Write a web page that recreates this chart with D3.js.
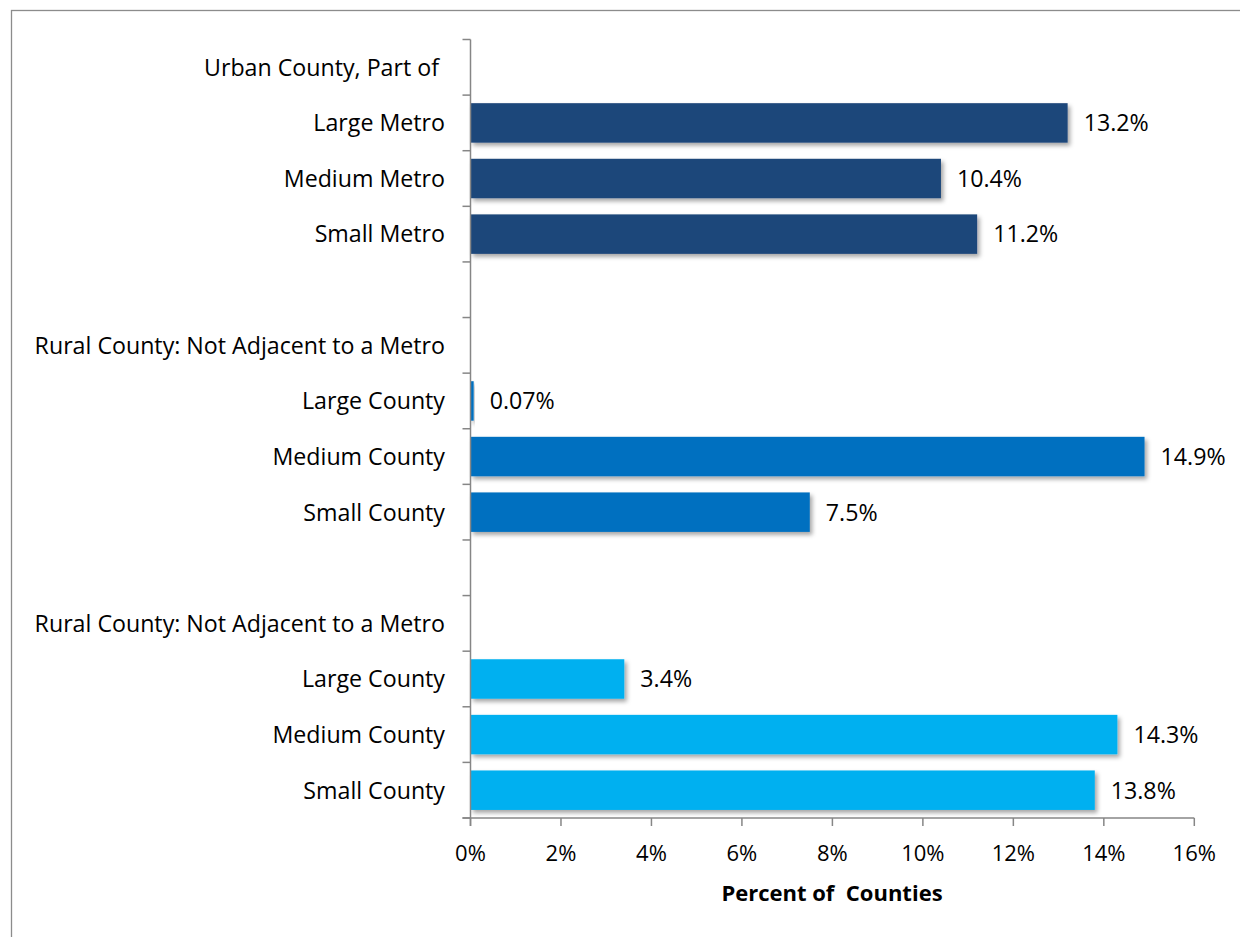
<!DOCTYPE html>
<html>
<head>
<meta charset="utf-8">
<script src="https://cdn.jsdelivr.net/npm/d3@7"></script>
<style>
  html, body { margin: 0; padding: 0; background: #fff; }
  svg { display: block; }
  text { font-family: "Open Sans", Lato, sans-serif; fill: #000; white-space: pre; }
</style>
</head>
<body>
<svg id="chart" width="1240" height="937"></svg>
<script>
// Row labels, top to bottom (group headers and spacer rows carry no value)
const rowLabels = [
  "Urban County, Part of ",
  "Large Metro", "Medium Metro", "Small Metro",
  "",
  "Rural County: Not Adjacent to a Metro",
  "Large County", "Medium County", "Small County",
  "",
  "Rural County: Not Adjacent to a Metro",
  "Large County", "Medium County", "Small County"
];
// Percent of counties for each row (null = no bar)
const rowValues = [null, 13.2, 10.4, 11.2, null, null, 0.07, 14.9, 7.5, null, null, 3.4, 14.3, 13.8];
const valueLabels = [null, "13.2%", "10.4%", "11.2%", null, null, "0.07%", "14.9%", "7.5%", null, null, "3.4%", "14.3%", "13.8%"];
// Group index for each row, used for bar colour
const rowGroup = [0, 0, 0, 0, 0, 1, 1, 1, 1, 1, 2, 2, 2, 2];
const groupColors = ["#1F477A", "#0070C0", "#00B0F0"];
const xTicks = [0, 2, 4, 6, 8, 10, 12, 14, 16];
const xTitle = "Percent of  Counties";

const svg = d3.select("#chart");
const labelSize = 23.2;
const tickSize = 22;

// Outer frame
svg.append("rect")
  .attr("x", 11.5).attr("y", 10.5)
  .attr("width", 1260).attr("height", 960)
  .attr("fill", "none").attr("stroke", "#8c8c8c").attr("stroke-width", 1.3);

const defs = svg.append("defs");
const f = defs.append("filter").attr("id", "shadow")
  .attr("x", "-5%").attr("y", "-20%").attr("width", "120%").attr("height", "160%");
f.append("feDropShadow")
  .attr("dx", 2.5).attr("dy", 3).attr("stdDeviation", 2)
  .attr("flood-color", "#000").attr("flood-opacity", 0.35);

const plotLeft = 470.5, plotRight = 1194.3, plotTop = 39.5, plotBottom = 818;
const idx = d3.range(rowLabels.length);

const x = d3.scaleLinear().domain([0, 16]).range([plotLeft, plotRight]);
const y = d3.scaleBand().domain(idx).range([plotTop, plotBottom]).paddingInner(0.29).paddingOuter(0.145);
const yEdge = d3.scaleLinear().domain([0, rowLabels.length]).range([plotTop, plotBottom]);

// Bars
svg.append("g").selectAll("rect")
  .data(idx.filter(i => rowValues[i] != null))
  .join("rect")
  .attr("x", x(0))
  .attr("y", i => y(i))
  .attr("width", i => Math.max(x(rowValues[i]) - x(0), 2))
  .attr("height", y.bandwidth())
  .attr("fill", i => groupColors[rowGroup[i]])
  .attr("filter", "url(#shadow)");

// Value labels
svg.append("g").selectAll("text")
  .data(idx.filter(i => rowValues[i] != null))
  .join("text")
  .attr("x", i => Math.max(x(rowValues[i]), x(0) + 2) + 16)
  .attr("y", i => y(i) + y.bandwidth() / 2)
  .attr("dy", "0.36em")
  .attr("font-size", labelSize)
  .text(i => valueLabels[i]);

// Category axis
const axisColor = "#868686";
const gy = svg.append("g");
gy.append("line")
  .attr("x1", plotLeft).attr("x2", plotLeft)
  .attr("y1", plotTop).attr("y2", plotBottom + 8)
  .attr("stroke", axisColor).attr("stroke-width", 1.5);
gy.selectAll("line.tick")
  .data(d3.range(rowLabels.length + 1))
  .join("line").attr("class", "tick")
  .attr("x1", plotLeft - 8).attr("x2", plotLeft)
  .attr("y1", i => yEdge(i)).attr("y2", i => yEdge(i))
  .attr("stroke", axisColor).attr("stroke-width", 1.5);
gy.selectAll("text")
  .data(idx)
  .join("text")
  .attr("x", 445)
  .attr("y", i => y(i) + y.bandwidth() / 2)
  .attr("dy", "0.36em")
  .attr("text-anchor", "end")
  .attr("font-size", labelSize)
  .text(i => rowLabels[i]);

// Value axis
const gx = svg.append("g");
gx.append("line")
  .attr("x1", plotLeft - 8).attr("x2", plotRight)
  .attr("y1", plotBottom).attr("y2", plotBottom)
  .attr("stroke", axisColor).attr("stroke-width", 1.5);
gx.selectAll("line.tick")
  .data(xTicks)
  .join("line").attr("class", "tick")
  .attr("x1", d => x(d)).attr("x2", d => x(d))
  .attr("y1", plotBottom).attr("y2", plotBottom + 8)
  .attr("stroke", axisColor).attr("stroke-width", 1.5);
gx.selectAll("text")
  .data(xTicks)
  .join("text")
  .attr("x", d => x(d))
  .attr("y", 853)
  .attr("dy", "0.36em")
  .attr("text-anchor", "middle")
  .attr("font-size", tickSize)
  .text(d => d + "%");

svg.append("text")
  .attr("x", 832)
  .attr("y", 893)
  .attr("dy", "0.36em")
  .attr("text-anchor", "middle")
  .attr("font-size", tickSize)
  .attr("font-weight", "bold")
  .text(xTitle);
</script>
</body>
</html>
